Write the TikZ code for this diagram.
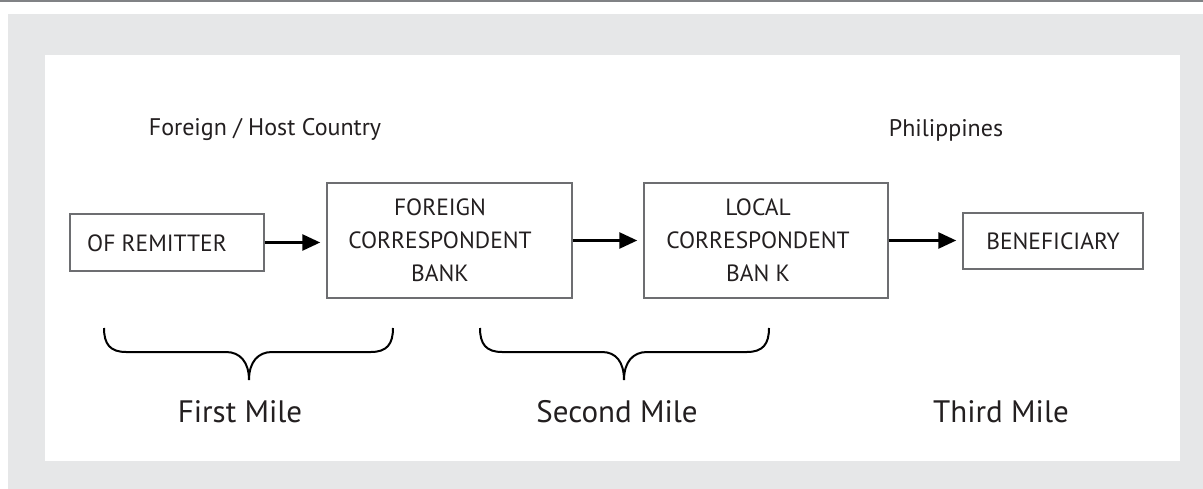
\documentclass[tikz,border=0pt]{standalone}
\usepackage{fontspec}
\setmainfont{PT Sans}
\usetikzlibrary{arrows.meta}
\definecolor{bggray}{HTML}{E6E7E8}
\definecolor{linegray}{HTML}{808285}
\definecolor{boxgray}{HTML}{6D6E71}
\definecolor{ink}{HTML}{231F20}
\tikzset{
  box/.style={draw=boxgray, line width=1.5pt, rectangle, inner sep=0pt},
  boxtext/.style={text=ink, font=\fontsize{23.5}{33}\selectfont, align=center, inner sep=0pt},
  head/.style={text=ink, font=\fontsize{24}{28}\selectfont, inner sep=0pt},
  mile/.style={text=ink, font=\fontsize{31}{36}\selectfont, inner sep=0pt},
  arr/.style={draw=black, line width=2.8pt, -{Triangle[length=18pt,width=16pt]}, shorten >=6pt},
  bracestyle/.style={draw=black, line width=2pt}
}
\begin{document}
\begin{tikzpicture}[x=1pt,y=-1pt]
\useasboundingbox (0,0) rectangle (1203,489);
\fill[bggray] (8,14) rectangle (1203,489);
\fill[white] (45,55) rectangle (1180,461);
\draw[linegray, line width=2pt] (0,1) -- (1203,1);

\node[head] (h1) at (265,130) {Foreign / Host Country};
\node[head] (h2) at (946,130) {Philippines};

\node[box, minimum width=194pt, minimum height=57pt] (b1) at (167,242.5) {};
\node[boxtext] (t1) at (157,243) {OF REMITTER};
\node[box, minimum width=245pt, minimum height=115pt] (b2) at (449.5,240.5) {};
\node[boxtext] (t2) at (440,240) {FOREIGN\\CORRESPONDENT\\BANK};
\node[box, minimum width=244pt, minimum height=115pt] (b3) at (766,240.5) {};
\node[boxtext] (t3) at (758,240) {LOCAL\\CORRESPONDENT\\BAN K};
\node[box, minimum width=180pt, minimum height=56pt] (b4) at (1053,241) {};
\node[boxtext] (t4) at (1053,241) {BENEFICIARY};

\draw[arr] (b1.east) -- (b1.east -| b2.west);
\draw[arr] (b2.east) -- (b2.east -| b3.west);
\draw[arr] (b3.east) -- (b3.east -| b4.west);

\draw[bracestyle] (104,328) .. controls (104,344) and (110,352) .. (126,352) -- (226,352)
  .. controls (240,352) and (249,362) .. (249,380)
  .. controls (249,362) and (258,352) .. (272,352) -- (371,352)
  .. controls (387,352) and (393,344) .. (393,328);
\draw[bracestyle] (480,328) .. controls (480,344) and (486,352) .. (502,352) -- (602,352)
  .. controls (616,352) and (624,362) .. (624,380)
  .. controls (624,362) and (633,352) .. (647,352) -- (747,352)
  .. controls (763,352) and (769,344) .. (769,328);

\node[mile] (m1) at (240,412) {First Mile};
\node[mile] (m2) at (617,412) {Second Mile};
\node[mile] (m3) at (1001,412) {Third Mile};
\end{tikzpicture}
\end{document}
